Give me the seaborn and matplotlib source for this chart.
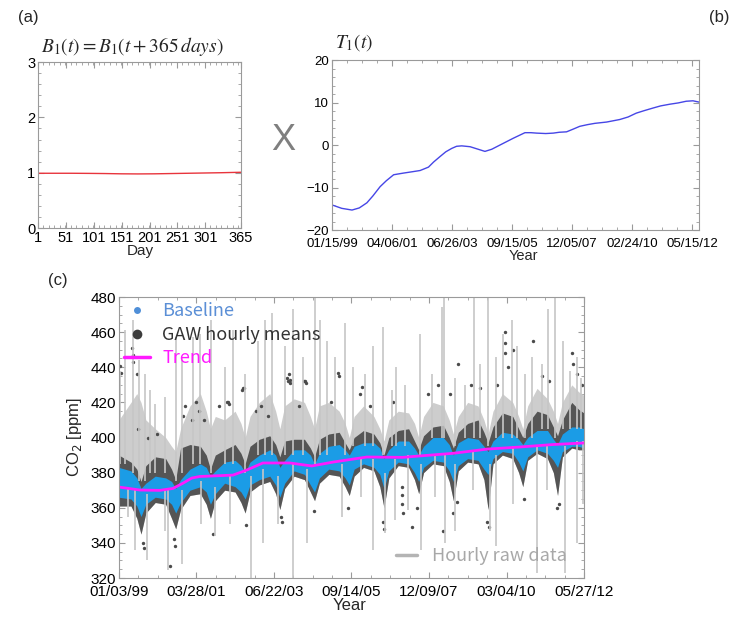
import numpy as np
import pandas as pd
import matplotlib
matplotlib.use('Agg')
import matplotlib.pyplot as plt
import seaborn as sns
from matplotlib.lines import Line2D
from matplotlib.ticker import MultipleLocator, FixedLocator

# ---------------- data ----------------
# (a) seasonal factor B1 over the day of year
b1_day = [1, 30, 60, 90, 120, 150, 180, 210, 240, 270, 300, 330, 365]
b1_val = [0.99, 0.99, 0.99, 0.988, 0.985, 0.98, 0.978, 0.98, 0.985, 0.99, 0.995, 1.0, 1.008]
b1_ticks = [1, 51, 101, 151, 201, 251, 301, 365]

# (b) trend component T1 (decimal years)
t1_year = [1999.04, 1999.40, 1999.78, 2000.05, 2000.33, 2000.55, 2000.82, 2001.05, 2001.32,
           2001.50, 2001.69, 2002.00, 2002.30, 2002.61, 2002.80, 2003.04, 2003.25, 2003.47,
           2003.65, 2003.84, 2004.15, 2004.40, 2004.70, 2004.95, 2005.38, 2005.75, 2006.18,
           2006.40, 2006.61, 2006.95, 2007.23, 2007.45, 2007.72, 2007.95, 2008.21, 2008.50,
           2008.77, 2009.20, 2009.69, 2010.00, 2010.30, 2010.60, 2010.92, 2011.20, 2011.54,
           2011.85, 2012.15, 2012.40, 2012.62]
t1_val = [-14.1, -14.9, -15.3, -14.8, -13.6, -12.0, -9.8, -8.4, -7.0,
          -6.8, -6.6, -6.3, -6.0, -5.2, -4.0, -2.7, -1.6, -0.8,
          -0.3, -0.2, -0.4, -0.9, -1.5, -1.0, 0.4, 1.6, 2.9,
          2.9, 2.8, 2.7, 2.8, 3.0, 3.1, 3.7, 4.4, 4.8,
          5.1, 5.4, 6.0, 6.6, 7.5, 8.1, 8.7, 9.2, 9.6,
          9.9, 10.3, 10.4, 10.1]
t1_tick_labels = ['01/15/99', '04/06/01', '06/26/03', '09/15/05', '12/05/07', '02/24/10', '05/15/12']

# (c) CO2 record
co2_tick_labels = ['01/03/99', '03/28/01', '06/22/03', '09/14/05', '12/09/07', '03/04/10', '05/27/12']

band_year = [1999.00, 1999.35, 1999.52, 1999.64, 1999.78,
             2000.05, 2000.35, 2000.52, 2000.64, 2000.78,
             2001.05, 2001.35, 2001.52, 2001.64, 2001.78,
             2002.05, 2002.35, 2002.52, 2002.64, 2002.78,
             2003.05, 2003.35, 2003.52, 2003.64, 2003.78,
             2004.05, 2004.35, 2004.52, 2004.64, 2004.78,
             2005.05, 2005.35, 2005.52, 2005.64, 2005.78,
             2006.05, 2006.35, 2006.52, 2006.64, 2006.78,
             2007.05, 2007.35, 2007.52, 2007.64, 2007.78,
             2008.05, 2008.35, 2008.52, 2008.64, 2008.78,
             2009.05, 2009.35, 2009.52, 2009.64, 2009.78,
             2010.05, 2010.35, 2010.52, 2010.64, 2010.78,
             2011.05, 2011.35, 2011.52, 2011.64, 2011.78,
             2012.05, 2012.25, 2012.40]
base_hi = [383, 381, 377, 371, 374,  378, 377, 375, 371, 376,  382, 385, 383, 378, 381,
           386, 387, 384, 380, 386,  390, 393, 390, 383, 387,  393, 393, 390, 385, 391,
           395, 396, 393, 390, 395,  397, 397, 394, 388, 393,  398, 398, 394, 390, 395,
           400, 400, 396, 390, 397,  400, 399, 395, 392, 398,  403, 402, 399, 396, 400,
           404, 404, 399, 396, 402,  406, 406, 405]
base_lo = [366, 365, 361, 355, 362,  366, 365, 362, 357, 363,  370, 372, 369, 362, 368,
           374, 372, 369, 365, 373,  376, 378, 373, 366, 374,  381, 379, 373, 369, 377,
           382, 381, 377, 373, 382,  385, 383, 379, 371, 381,  386, 385, 380, 375, 383,
           387, 386, 381, 375, 384,  388, 387, 382, 379, 388,  392, 391, 386, 381, 389,
           393, 391, 387, 383, 392,  395, 395, 394]
gaw_hi = [390, 386, 382, 375, 384,  389, 388, 382, 376, 394,  396, 395, 390, 382, 390,
          393, 396, 391, 385, 395,  399, 401, 396, 389, 398,  399, 399, 394, 389, 399,
          402, 403, 397, 393, 400,  404, 402, 397, 390, 400,  404, 405, 398, 393, 401,
          406, 407, 400, 394, 403,  408, 410, 403, 397, 406,  414, 412, 405, 400, 408,
          415, 413, 406, 401, 410,  420, 416, 414]
gaw_lo = [361, 361, 354, 345, 357,  363, 362, 354, 348, 359,  367, 368, 362, 354, 364,
          370, 369, 363, 357, 369,  373, 375, 368, 359, 371,  378, 376, 369, 364, 374,
          379, 378, 372, 367, 378,  383, 381, 372, 360, 377,  384, 383, 376, 368, 380,
          385, 384, 375, 364, 381,  386, 385, 376, 359, 385,  390, 388, 380, 372, 387,
          391, 388, 380, 367, 389,  394, 393, 393]
raw_hi = [410, 420, 425, 420, 410,  405, 400, 395, 392, 405,  418, 425, 415, 405, 412,
          410, 415, 408, 400, 412,  420, 425, 415, 405, 418,  422, 420, 412, 405, 418,
          420, 415, 408, 400, 412,  418, 412, 405, 398, 410,  415, 414, 408, 400, 412,
          420, 418, 410, 402, 412,  420, 418, 410, 402, 415,  425, 420, 412, 405, 418,
          428, 422, 415, 408, 420,  430, 426, 424]

trend_year = [1999.00, 1999.61, 2000.18, 2000.56, 2000.85, 2001.10, 2001.33, 2002.29, 2002.69,
              2003.15, 2003.93, 2004.56, 2005.17, 2006.15, 2007.18, 2007.67, 2008.63, 2009.61,
              2010.56, 2011.51, 2012.40]
trend_ppm = [371.8, 370.1, 369.9, 371.0, 374.0, 376.9, 377.8, 378.6, 381.5,
             385.5, 385.5, 383.8, 386.0, 388.9, 388.7, 389.5, 391.0, 393.4,
             394.6, 396.0, 396.9]

# single raw-data excursions (light grey vertical strokes)
spike_year = [1999.03, 1999.17, 1999.41, 1999.58, 1999.75, 1999.89, 2000.04, 2000.33, 2000.66, 2000.81,
              2001.14, 2001.33, 2001.67, 2002.05, 2002.29, 2002.63, 2003.02, 2003.21, 2003.40, 2003.78,
              2004.02, 2004.31, 2004.65, 2004.79, 2004.99, 2005.23, 2005.51, 2005.75, 2006.09, 2006.33,
              2006.62, 2006.86, 2007.00, 2007.24, 2007.67, 2008.01, 2008.30, 2008.37, 2008.68, 2008.97,
              2009.24, 2009.40, 2009.64, 2009.88, 2010.08, 2010.32, 2010.46, 2010.70, 2010.89, 2011.18,
              2011.37, 2011.57, 2011.81, 2012.00, 2012.19, 2012.33,
              1999.27, 1999.46, 1999.80, 2000.33, 2000.42, 2000.81, 2001.38, 2001.77, 2002.20, 2002.82,
              2003.16, 2003.59, 2004.02, 2004.41, 2005.42, 2005.99, 2006.33, 2006.66, 2006.95, 2007.34,
              2007.72, 2008.11, 2008.39, 2008.68, 2009.21, 2009.69, 2009.88, 2010.37, 2011.04, 2011.33,
              2011.85, 2012.19, 2012.38]
spike_lo = [385, 385, 380, 375, 375, 380, 380, 380, 375, 380,
            385, 385, 380, 385, 385, 380, 390, 390, 390, 390,
            390, 390, 385, 390, 390, 395, 390, 395, 395, 395,
            390, 395, 395, 395, 390, 400, 400, 400, 395, 400,
            400, 400, 395, 400, 400, 400, 400, 400, 400, 405,
            405, 400, 405, 405, 405, 405,
            355, 336, 330, 347, 324.5, 328, 351, 344, 351, 320,
            340, 351, 320, 340, 355, 366, 336, 345.5, 353, 358.7,
            336, 366, 340, 347, 370, 347, 338, 362, 322.6, 370,
            322.6, 340, 362]
spike_hi = [438, 461, 467, 444, 436, 427, 419, 423, 457, 444,
            457, 459, 467, 440, 461, 436, 455, 467, 471, 452,
            473, 446, 479.5, 467, 455, 446, 465, 440, 436, 452,
            463, 427, 440, 430, 459, 436, 474.5, 480, 434, 430,
            480, 442, 480, 446, 459, 467, 452, 436, 446, 442,
            473, 480, 455, 438, 446, 434,
            372, 370, 368, 370, 370, 370, 375, 372, 378, 378,
            382, 378, 385, 382, 385, 388, 388, 380, 388, 390,
            385, 390, 390, 385, 392, 385, 390, 395, 395, 395,
            395, 398, 398]

# isolated GAW hourly means outside the dense cloud
dot_year = [1999.03, 1999.06, 1999.38, 1999.40, 1999.40, 1999.52, 1999.70, 1999.72, 1999.55, 1999.85,
            2000.10, 2000.47, 2000.58, 2000.62, 2000.85, 2000.90,
            2001.10, 2001.22, 2001.30, 2001.45, 2001.70, 2001.90, 2002.11, 2002.14, 2002.17,
            2002.58, 2002.61, 2002.55, 2002.66, 2002.95,
            2003.10, 2003.30, 2003.86, 2003.88, 2003.90, 2003.92, 2003.94, 2003.70, 2003.66,
            2004.34, 2004.37, 2004.40, 2004.62, 2004.20,
            2005.31, 2005.33, 2005.10, 2005.60, 2005.95,
            2006.00, 2006.25, 2006.60, 2006.64, 2006.90,
            2007.15, 2007.16, 2007.17, 2007.18, 2007.44, 2007.60, 2007.90,
            2008.20, 2008.34, 2008.55, 2008.74, 2008.77, 2008.62,
            2009.15, 2009.62, 2009.66, 2009.40, 2009.90,
            2010.12, 2010.12, 2010.13, 2010.36, 2010.66, 2010.20,
            2010.93, 2011.20, 2011.62, 2011.68, 2011.40,
            2012.05, 2012.08, 2012.20, 2012.35]
dot_ppm = [441, 437, 451, 447, 443, 436, 340, 337, 405, 400,
           402, 327, 342, 338, 412, 418,
           410, 420, 415, 410, 345, 418, 420, 420, 419,
           428, 428, 427, 350, 415,
           418, 412, 434, 432, 436, 431, 433, 352, 355,
           432, 432, 431, 358, 418,
           436.5, 435, 420, 360, 425,
           429, 418, 352, 348, 420,
           372, 367, 362, 357, 349, 360, 425,
           430, 347, 425, 363, 442, 357,
           430, 352, 349, 428, 430,
           460, 454, 448, 450, 365, 440,
           455, 435, 360, 362, 432,
           448, 442, 436, 430]


def date_to_year(label):
    d = pd.to_datetime(label, format='%m/%d/%y')
    return d.year + (d.dayofyear - 1) / 365.25


def frame(ax, size, xpad=2):
    for s in ax.spines.values():
        s.set_color('#9a9a9a')
        s.set_linewidth(0.8)
    ax.tick_params(which='both', direction='in', top=True, right=True,
                   color='#9a9a9a', labelcolor='black', labelsize=size, pad=2)
    ax.tick_params(axis='x', pad=xpad)
    ax.tick_params(which='major', length=4)
    ax.tick_params(which='minor', length=2)


sns.set_style('ticks')
plt.rcParams['font.family'] = ['Liberation Sans', 'DejaVu Sans']
plt.rcParams['mathtext.fontset'] = 'stix'

fig = plt.figure(figsize=(7.45, 6.18), dpi=100)
ax_a = fig.add_axes([0.051, 0.631, 0.2725, 0.2686])
ax_b = fig.add_axes([0.4456, 0.6278, 0.4926, 0.2751])
ax_c = fig.add_axes([0.1597, 0.0647, 0.6242, 0.4547])

# ---- (a)
sns.lineplot(x=b1_day, y=b1_val, ax=ax_a, color='#e8343c', linewidth=1)
ax_a.set_xlim(1, 365)
ax_a.set_ylim(0, 3)
ax_a.set_xticks(b1_ticks)
ax_a.set_yticks([0, 1, 2, 3])
ax_a.xaxis.set_minor_locator(MultipleLocator(10))
ax_a.yaxis.set_minor_locator(MultipleLocator(0.2))
frame(ax_a, 10.5)

# ---- (b)
b_ticks = [date_to_year(s) for s in t1_tick_labels]
sns.lineplot(x=t1_year, y=t1_val, ax=ax_b, color='#4646e6', linewidth=1)
ax_b.set_xlim(b_ticks[0], 2012.62)
ax_b.set_ylim(-20, 20)
ax_b.set_xticks(b_ticks)
ax_b.set_xticklabels(t1_tick_labels)
ax_b.xaxis.set_minor_locator(FixedLocator(np.linspace(b_ticks[0], b_ticks[-1], 25)))
ax_b.yaxis.set_minor_locator(MultipleLocator(2))
frame(ax_b, 9.5, xpad=6)

# ---- (c)
c_ticks = [date_to_year(s) for s in co2_tick_labels]
ax_c.fill_between(band_year, gaw_lo, raw_hi, color='#cdcdcd', lw=0)
ax_c.vlines(spike_year, spike_lo, spike_hi, color='#c6c6c6', lw=1.2)
ax_c.fill_between(band_year, gaw_lo, gaw_hi, color='#555555', lw=0)
sns.scatterplot(x=dot_year, y=dot_ppm, ax=ax_c, color='#4b4b4b', s=6, linewidth=0)
ax_c.fill_between(band_year, base_lo, base_hi, color='#1b9ce6', lw=0)
sns.lineplot(x=trend_year, y=trend_ppm, ax=ax_c, color='#ff1aff', linewidth=2)
ax_c.set_xlim(c_ticks[0], c_ticks[-1])
ax_c.set_ylim(320, 480)
ax_c.set_xticks(c_ticks)
ax_c.set_xticklabels(co2_tick_labels)
ax_c.set_yticks(range(320, 481, 20))
ax_c.xaxis.set_minor_locator(FixedLocator(np.linspace(c_ticks[0], c_ticks[-1], 25)))
ax_c.yaxis.set_minor_locator(MultipleLocator(5))
frame(ax_c, 11, xpad=5)

legend_font = dict(family=['Noto Sans CJK KR', 'DejaVu Sans'], size=13)
handles = [
    Line2D([], [], marker='o', ls='none', markerfacecolor='#4f8fd8', markeredgecolor='none', markersize=5),
    Line2D([], [], marker='o', ls='none', markerfacecolor='#3c3c3c', markeredgecolor='none', markersize=7),
    Line2D([], [], color='#ff1aff', lw=2.5),
]
leg = ax_c.legend(handles, ['Baseline', 'GAW hourly means', 'Trend'], loc='upper left',
                  frameon=False, prop=legend_font, labelcolor=['#5b8fd6', '#333333', '#ff1aff'],
                  handlelength=1.4, handletextpad=0.7, borderaxespad=0.1, labelspacing=0.3,
                  borderpad=0.2)
ax_c.add_artist(leg)
ax_c.legend([Line2D([], [], color='#b4b4b4', lw=2.5)], ['Hourly raw data'], loc='lower right',
            frameon=False, prop=legend_font, labelcolor=['#a8a8a8'], handlelength=1.2,
            borderaxespad=0.3, bbox_to_anchor=(0.99, 0.0))

# ---- labels and panel letters
fig.text(0.024, 0.971, '(a)', fontsize=12, va='center')
fig.text(0.966, 0.971, '(b)', fontsize=12, va='center', ha='center')
fig.text(0.078, 0.546, '(c)', fontsize=12, va='center', ha='center')
fig.text(132 / 745, 1 - 47 / 618, r'$B_1(t) = B_1(t + 365\,days)$', fontsize=14, ha='center', va='center')
fig.text(335 / 745, 1 - 43 / 618, r'$T_1(t)$', fontsize=14, ha='left', va='center')
fig.text(283 / 745, 1 - 140 / 618, 'X', fontsize=26, color='#7f7f7f', ha='center', va='center')
fig.text(140 / 745, 1 - 251 / 618, 'Day', fontsize=11, ha='center', va='center')
fig.text(523 / 745, 1 - 256 / 618, 'Year', fontsize=10.5, ha='center', va='center')
fig.text(350 / 745, 1 - 605 / 618, 'Year', fontsize=12, ha='center', va='center')
fig.text(75 / 745, 1 - 437 / 618, r'CO$_2$ [ppm]', fontsize=12, rotation=90, ha='center', va='center',
         math_fontfamily='dejavusans')

fig.savefig('out.png', dpi=100)
